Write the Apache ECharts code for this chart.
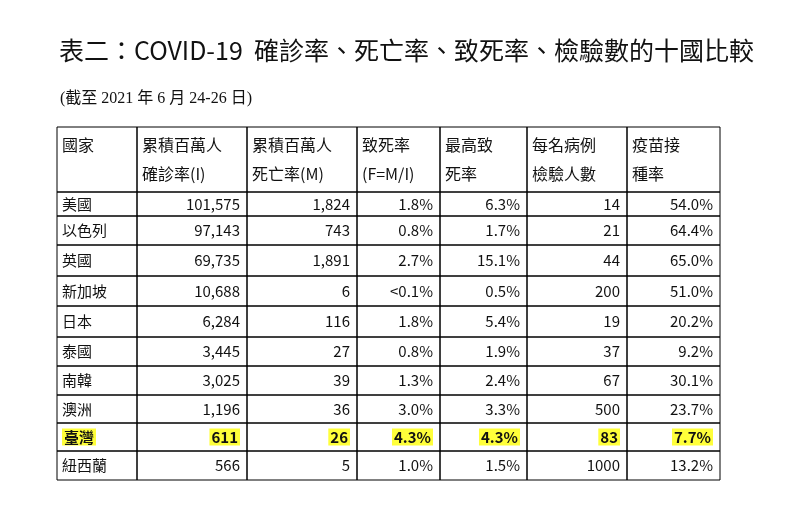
<!DOCTYPE html>
<html><head><meta charset="utf-8">
<script src="https://cdn.jsdelivr.net/npm/echarts@6/dist/echarts.min.js"></script>
<style>html,body{margin:0;background:#fff}#c{width:793px;height:516px}</style>
</head><body><div id="c"></div>
<script>
const titleText = '表二：COVID-19  確診率、死亡率、致死率、檢驗數的十國比較';
const subtitleText = '(截至 2021 年 6 月 24-26 日)';
const headers = [['國家',''],['累積百萬人','確診率(I)'],['累積百萬人','死亡率(M)'],['致死率','(F=M/I)'],['最高致','死率'],['每名病例','檢驗人數'],['疫苗接','種率']];
const countries = ['美國','以色列','英國','新加坡','日本','泰國','南韓','澳洲','臺灣','紐西蘭'];
const casesPerM = ['101,575','97,143','69,735','10,688','6,284','3,445','3,025','1,196','611','566'];
const deathsPerM = ['1,824','743','1,891','6','116','27','39','36','26','5'];
const cfr = ['1.8%','0.8%','2.7%','<0.1%','1.8%','0.8%','1.3%','3.0%','4.3%','1.0%'];
const maxCfr = ['6.3%','1.7%','15.1%','0.5%','5.4%','1.9%','2.4%','3.3%','4.3%','1.5%'];
const testsPerCase = ['14','21','44','200','19','37','67','500','83','1000'];
const vaccRate = ['54.0%','64.4%','65.0%','51.0%','20.2%','9.2%','30.1%','23.7%','7.7%','13.2%'];
const highlightCountry = '臺灣';

// layout (pixel-unit axes)
const colEdges = [57,137,247,357,440,527,627,720];
const rowEdges = [127,192,216,245,276,306,337,366,395,423,451,480];

const cols = [countries,casesPerM,deathsPerM,cfr,maxCfr,testsPerCase,vaccRate];
const data = [];
for (let c=0;c<7;c++){ data.push([c,0]); for(let r=0;r<countries.length;r++) data.push([c,r+1]); }

const font = '"Noto Sans CJK TC","Noto Sans",sans-serif';
function renderItem(params, api){
  const c=api.value(0), r=api.value(1);
  const p0=api.coord([colEdges[c],rowEdges[r]]), p1=api.coord([colEdges[c+1],rowEdges[r+1]]);
  const x=p0[0], y=p0[1], w=p1[0]-p0[0], h=p1[1]-p0[1];
  const children=[{type:'rect',shape:{x,y,width:w,height:h},style:{fill:'none',stroke:'#000',lineWidth:1}}];
  if(r===0){
    const hd=headers[c];
    children.push({type:'text',style:{text:hd[0],x:x+5,y:y+18,font:'16px '+font,fill:'#111',verticalAlign:'middle'}});
    if(hd[1]) children.push({type:'text',style:{text:hd[1],x:x+5,y:y+47,font:'16px '+font,fill:'#111',verticalAlign:'middle'}});
  } else {
    const i=r-1, txt=cols[c][i], hl=countries[i]===highlightCountry;
    const left=c===0;
    const st={text:txt,y:y+h/2,font:(hl?'bold ':'')+'15px '+font,fill:'#111',verticalAlign:'middle',
      align:left?'left':'right',x:left?x+5:x+w-7};
    if(hl){st.backgroundColor='#ffff3a';st.padding=[1,2];}
    children.push({type:'text',style:st});
  }
  return {type:'group',children};
}
const chart=echarts.init(document.getElementById('c'));
chart.setOption({
  backgroundColor:'#fff',animation:false,
  title:[{text:titleText,left:54,top:33,textStyle:{fontSize:25,fontWeight:'normal',color:'#111',fontFamily:font}},
         {text:subtitleText,left:55,top:86,textStyle:{fontSize:16,fontWeight:'normal',color:'#111',fontFamily:'"Liberation Serif","Noto Sans CJK TC",serif'}}],
  grid:{left:0,right:0,top:0,bottom:0},
  xAxis:{type:'value',min:0,max:793,show:false},
  yAxis:{type:'value',min:0,max:516,inverse:true,show:false},
  series:[{type:'custom',renderItem,data,clip:false}]
});
</script></body></html>
